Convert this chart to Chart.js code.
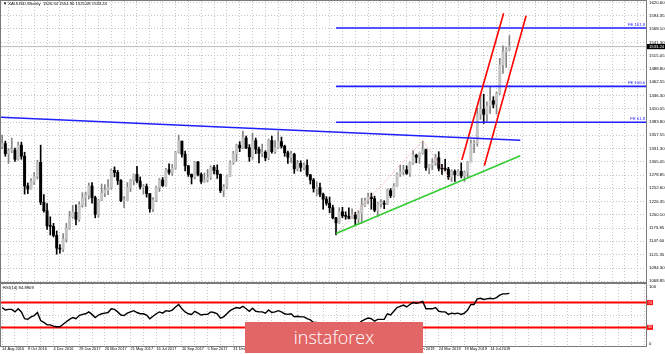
<!DOCTYPE html>
<html>
<head>
<meta charset="utf-8">
<script src="https://cdn.jsdelivr.net/npm/chart.js@4.4.1/dist/chart.umd.min.js"></script>
<style>
  html, body { margin: 0; padding: 0; background: #fff; }
  #wrap { position: relative; width: 665px; height: 354px; overflow: hidden; }
  #main { position: absolute; left: 0; top: 0; }
  #rsi { position: absolute; left: 0; top: 283px; }
  #logo {
    position: absolute; left: 245px; top: 322px; width: 178px; height: 31px;
    background: #e26666; color: #fff; text-align: center;
    font: 300 18px/31px "Open Sans", sans-serif;
  }
</style>
</head>
<body>
<div id="wrap">
  <canvas id="main" width="665" height="283"></canvas>
  <canvas id="rsi" width="665" height="71"></canvas>
  <div id="logo">instaforex</div>
</div>
<script>
// weekly XAUUSD bars, week 0 = 14 Aug 2016
const opens = [
  1335, 1341, 1321, 1327, 1328, 1310, 1338, 1316, 1257, 1251, 1266, 1276, 1304, 1225, 1208, 1178, 1177, 1159, 1134, 1132,
  1152, 1173, 1196, 1205, 1191, 1220, 1234, 1239, 1257, 1234, 1201, 1229, 1243, 1249, 1254, 1288, 1284, 1268, 1228, 1228,
  1254, 1268, 1280, 1267, 1255, 1256, 1242, 1212, 1229, 1254, 1269, 1258, 1289, 1284, 1292, 1324, 1346, 1320, 1297, 1280,
  1275, 1304, 1280, 1266, 1269, 1274, 1294, 1288, 1280, 1248, 1255, 1277, 1303, 1321, 1338, 1333, 1352, 1333, 1315, 1347,
  1330, 1322, 1324, 1313, 1347, 1325, 1333, 1345, 1336, 1323, 1314, 1320, 1291, 1302, 1294, 1298, 1279, 1269, 1252, 1254,
  1241, 1231, 1223, 1214, 1194, 1184, 1206, 1198, 1197, 1193, 1200, 1192, 1203, 1218, 1228, 1235, 1232, 1209, 1222, 1222,
  1221, 1248, 1238, 1257, 1281, 1285, 1289, 1282, 1303, 1318, 1314, 1322, 1329, 1293, 1299, 1302, 1313, 1292, 1291, 1290,
  1275, 1286, 1279, 1286, 1277, 1284, 1305, 1341, 1341, 1399, 1409, 1399, 1416, 1426, 1419, 1440, 1497, 1523, 1526.5
];
const highs = [
  1358, 1346, 1331, 1352, 1332, 1344, 1344, 1324, 1263, 1272, 1284, 1308, 1338, 1240, 1222, 1196, 1183, 1168, 1141, 1163,
  1183, 1207, 1219, 1220, 1226, 1244, 1245, 1263, 1264, 1237, 1231, 1261, 1260, 1270, 1291, 1295, 1288, 1270, 1236, 1264,
  1270, 1281, 1296, 1275, 1260, 1261, 1242, 1234, 1257, 1272, 1274, 1292, 1301, 1300, 1326, 1358, 1346, 1326, 1298, 1281,
  1306, 1306, 1283, 1283, 1290, 1297, 1298, 1299, 1281, 1260, 1279, 1307, 1326, 1340, 1345, 1366, 1356, 1339, 1362, 1352,
  1334, 1340, 1327, 1350, 1356, 1347, 1365, 1354, 1338, 1326, 1326, 1322, 1308, 1307, 1303, 1309, 1280, 1272, 1265, 1263,
  1243, 1236, 1235, 1219, 1195, 1214, 1215, 1206, 1214, 1212, 1205, 1208, 1233, 1233, 1243, 1243, 1237, 1225, 1230, 1228,
  1251, 1252, 1262, 1283, 1298, 1298, 1297, 1305, 1327, 1320, 1323, 1346, 1330, 1300, 1311, 1320, 1325, 1300, 1310, 1294,
  1289, 1289, 1289, 1303, 1287, 1306, 1348, 1348, 1411, 1439, 1439, 1424, 1453, 1434, 1443, 1510, 1535, 1531, 1555
];
const lows = [
  1331, 1316, 1302, 1323, 1306, 1308, 1310, 1241, 1242, 1251, 1260, 1271, 1220, 1205, 1171, 1160, 1156, 1122, 1124, 1127,
  1146, 1171, 1193, 1180, 1187, 1215, 1216, 1231, 1223, 1194, 1195, 1228, 1236, 1240, 1251, 1275, 1260, 1226, 1214, 1228,
  1246, 1259, 1263, 1251, 1241, 1235, 1205, 1206, 1226, 1246, 1256, 1256, 1280, 1278, 1290, 1322, 1314, 1287, 1276, 1261,
  1271, 1277, 1262, 1264, 1265, 1270, 1281, 1272, 1244, 1236, 1252, 1276, 1300, 1306, 1325, 1331, 1331, 1306, 1310, 1321,
  1303, 1315, 1307, 1309, 1322, 1321, 1331, 1332, 1316, 1302, 1304, 1282, 1287, 1286, 1289, 1276, 1261, 1245, 1238, 1236,
  1211, 1219, 1204, 1192, 1160, 1183, 1194, 1191, 1192, 1193, 1180, 1182, 1183, 1216, 1222, 1211, 1206, 1196, 1215, 1212,
  1220, 1234, 1235, 1256, 1276, 1279, 1280, 1276, 1300, 1303, 1302, 1320, 1288, 1281, 1289, 1298, 1287, 1280, 1287, 1270,
  1266, 1266, 1277, 1273, 1266, 1275, 1305, 1323, 1336, 1389, 1381, 1385, 1401, 1412, 1400, 1438, 1480, 1492, 1525.1
];
const closes = [
  1341, 1321, 1327, 1328, 1310, 1338, 1316, 1257, 1251, 1266, 1276, 1304, 1225, 1208, 1178, 1177, 1159, 1134, 1132, 1152,
  1173, 1196, 1205, 1191, 1220, 1234, 1239, 1257, 1234, 1201, 1229, 1243, 1249, 1254, 1288, 1284, 1268, 1228, 1228, 1254,
  1268, 1280, 1267, 1255, 1256, 1242, 1212, 1229, 1254, 1269, 1258, 1289, 1284, 1292, 1324, 1347, 1320, 1297, 1280, 1275,
  1304, 1280, 1266, 1269, 1274, 1294, 1288, 1280, 1248, 1255, 1277, 1303, 1321, 1338, 1333, 1352, 1333, 1315, 1347, 1330,
  1322, 1324, 1313, 1347, 1325, 1333, 1345, 1336, 1323, 1314, 1320, 1291, 1302, 1294, 1298, 1279, 1269, 1252, 1254, 1241,
  1231, 1223, 1214, 1194, 1184, 1206, 1198, 1197, 1193, 1200, 1192, 1203, 1218, 1228, 1235, 1232, 1209, 1222, 1222, 1221,
  1248, 1238, 1257, 1281, 1285, 1289, 1282, 1303, 1318, 1314, 1322, 1329, 1293, 1299, 1302, 1313, 1292, 1291, 1290, 1275,
  1286, 1279, 1286, 1277, 1284, 1305, 1341, 1341, 1399, 1409, 1399, 1416, 1426, 1419, 1440, 1497, 1523, 1527, 1533.24
];
const rsiValues = [
  62, 58, 59, 59, 55, 60, 55, 44, 43, 47, 49, 54, 41, 38, 34, 34, 32, 31, 31, 35,
  39, 43, 46, 44, 49, 51, 52, 55, 51, 46, 50, 52, 53, 54, 60, 59, 55, 50, 49, 53,
  55, 57, 54, 52, 52, 50, 44, 48, 52, 55, 53, 57, 56, 58, 63, 67, 60, 55, 52, 51,
  56, 53, 50, 51, 51, 55, 54, 52, 45, 47, 52, 57, 60, 62, 61, 64, 60, 56, 61, 56,
  55, 55, 53, 58, 54, 55, 57, 55, 52, 51, 52, 47, 48, 47, 47, 44, 42, 38, 38, 36,
  35, 34, 32, 29, 27, 33, 31, 31, 31, 33, 32, 36, 40, 43, 45, 44, 40, 43, 43, 43,
  52, 50, 56, 62, 64, 66, 63, 67, 70, 69, 70, 72, 60, 60, 60, 62, 56, 55, 55, 51,
  53, 52, 53, 51, 53, 58, 67, 67, 76, 77, 75, 76, 77, 76, 78, 82, 84, 84, 84.89
];

// tick labels
const dateLabels = [
  "14 Aug 2016", "9 Oct 2016", "4 Dec 2016", "29 Jan 2017", "26 Mar 2017", "21 May 2017", "16 Jul 2017",
  "10 Sep 2017", "5 Nov 2017", "31 Dec 2017", "25 Feb 2018", "22 Apr 2018", "17 Jun 2018", "12 Aug 2018",
  "7 Oct 2018", "2 Dec 2018", "27 Jan 2019", "24 Mar 2019", "19 May 2019", "14 Jul 2019"
];
const priceTicks = [
  1620.60, 1594.35, 1568.10, 1541.30, 1515.05, 1488.80, 1462.55, 1436.30, 1410.05, 1383.80, 1357.55,
  1331.30, 1305.05, 1278.85, 1252.60, 1226.35, 1200.10, 1173.85, 1147.60, 1121.35, 1094.30, 1068.85
];

// drawn objects: [week, price]
const blueTrend = [[-0.35, 1393.2], [161.4, 1347.6]];
const greenTrend = [[104, 1163], [161.4, 1317]];
const channelUpper = [[143.2, 1308.6], [156.2, 1599.2]];
const channelLower = [[150.2, 1297.3], [163.2, 1594.5]];
const feSwing = [[104, 1161], [131, 1346.8], [140, 1266.5]];
const feNames = ["FE 161.8", "FE 100.0", "FE 61.8"];
const feValues = [1570.0, 1454.5, 1383.5];
const rsiLevels = [70, 30];
const lastPrice = 1533.24;
const titleText = "\u25BC XAUUSD,Weekly  1526.54 1554.90 1525.08 1533.24";
const rsiTitle = "RSI(14) 84.8909";

const X_MIN = -0.35, X_MAX = 200.55;
const FONT = "Liberation Sans";
const gridColor = "#c6c6c6";

function segment(points, color, width, dash) {
    return {
        type: "line",
        data: points.map(([x, y]) => ({ x, y })),
        borderColor: color,
        borderWidth: width,
        borderDash: dash || [],
        pointRadius: 0,
        tension: 0,
        fill: false,
        order: 1
    };
}

function squeeze(size) {
    return scale => {
        scale.paddingLeft = scale.paddingRight = scale.paddingTop = scale.paddingBottom = 0;
        if (scale.isHorizontal()) scale.height = size; else scale.width = size;
    };
}

function weekGrid(scale) {
    const ticks = [];
    for (let w = 0; w <= 200; w += 4) ticks.push({ value: w });
    scale.ticks = ticks;
}

const frame = {
    id: "frame",
    afterDraw(chart) {
        const { ctx, chartArea: a } = chart;
        ctx.save();
        ctx.strokeStyle = "#7a7a7a";
        ctx.lineWidth = 1;
        ctx.strokeRect(a.left - 0.5, a.top - 0.5, a.right - a.left + 1, a.bottom - a.top + 1);
        ctx.restore();
    }
};

const mainLabels = {
    id: "mainLabels",
    afterDraw(chart) {
        const { ctx, chartArea: a, scales: { y } } = chart;
        ctx.save();
        ctx.font = `4.2px "${FONT}"`;
        ctx.fillStyle = "#000";
        ctx.textBaseline = "top";
        ctx.fillText(titleText, a.left + 2, a.top + 1);

        ctx.fillStyle = "#2020ff";
        ctx.textAlign = "right";
        ctx.textBaseline = "bottom";
        feValues.forEach((v, i) => ctx.fillText(feNames[i], a.right - 1, y.getPixelForValue(v) - 1));

        const py = y.getPixelForValue(lastPrice);
        ctx.fillStyle = "#000";
        ctx.fillRect(a.right + 1, py - 2.6, 19, 5.2);
        ctx.fillStyle = "#fff";
        ctx.textAlign = "left";
        ctx.textBaseline = "middle";
        ctx.fillText(lastPrice.toFixed(2), a.right + 3, py);
        ctx.restore();
    }
};

const rsiLabels = {
    id: "rsiLabels",
    afterDraw(chart) {
        const { ctx, chartArea: a, scales: { y } } = chart;
        ctx.save();
        ctx.font = `4.2px "${FONT}"`;
        ctx.fillStyle = "#000";
        ctx.textBaseline = "top";
        ctx.fillText(rsiTitle, a.left + 2, a.top + 1.5);
        ctx.fillText("100", a.right + 3, y.getPixelForValue(100) + 0.5);
        ctx.textBaseline = "bottom";
        ctx.fillText("0", a.right + 3, y.getPixelForValue(0));
        rsiLevels.forEach(v => {
            const py = y.getPixelForValue(v);
            ctx.fillStyle = "#ff1010";
            ctx.fillRect(a.right + 1, py - 2.5, 6, 5);
            ctx.fillStyle = "#fff";
            ctx.font = `3.4px "${FONT}"`;
            ctx.textBaseline = "middle";
            ctx.fillText(String(v), a.right + 2, py);
        });
        ctx.restore();
    }
};

const xGrid = {
    type: "linear",
    min: X_MIN,
    max: X_MAX,
    offset: false,
    afterBuildTicks: weekGrid,
    grid: { color: gridColor, drawTicks: false },
    border: { display: false, dash: [1, 2] }
};

new Chart(document.getElementById("main"), {
    type: "bar",
    data: {
        datasets: [
            segment(blueTrend, "#1f1fff", 1.6),
            segment(greenTrend, "#33cc33", 1.6),
            segment(channelUpper, "#ff0000", 1.6),
            segment(channelLower, "#ff0000", 1.6),
            segment(feSwing, "#f08080", 0.8, [1, 1.5]),
            ...feValues.map(v => segment([[104, v], [X_MAX, v]], "#1f1fff", 1.6)),
            Object.assign(segment([[X_MIN, lastPrice], [X_MAX, lastPrice]], "#a9a9a9", 0.8), { order: 5 }),
            {
                type: "bar",
                data: lows.map((l, i) => ({ x: i, y: [l, highs[i]] })),
                backgroundColor: c => closes[c.dataIndex] >= opens[c.dataIndex] ? "#858585" : "#000",
                barThickness: 1,
                grouped: false,
                order: 4
            },
            {
                type: "bar",
                data: opens.map((o, i) => ({ x: i, y: [o, closes[i]] })),
                backgroundColor: c => closes[c.dataIndex] >= opens[c.dataIndex] ? "#c4c4c4" : "#000",
                barThickness: 2.3,
                minBarLength: 1,
                grouped: false,
                order: 3
            }
        ]
    },
    options: {
        responsive: false,
        animation: false,
        events: [],
        layout: { padding: { left: 1, top: 1, right: 0, bottom: 1 } },
        plugins: { legend: { display: false }, tooltip: { enabled: false } },
        scales: {
            x: Object.assign({}, xGrid, { ticks: { display: false }, afterFit: squeeze(0) }),
            y: {
                position: "right",
                min: 1066.87,
                max: 1623.57,
                afterBuildTicks: s => { s.ticks = priceTicks.map(v => ({ value: v })); },
                afterFit: squeeze(19),
                grid: { color: gridColor, drawTicks: false },
                border: { display: false, dash: [1, 2] },
                ticks: {
                    padding: 3,
                    color: "#000",
                    font: { family: FONT, size: 4.3 },
                    callback: v => v.toFixed(2)
                }
            }
        }
    },
    plugins: [frame, mainLabels]
});

new Chart(document.getElementById("rsi"), {
    type: "line",
    data: {
        datasets: [
            Object.assign(segment(rsiValues.map((v, i) => [i, v]), "#000", 1.4), { order: 0 }),
            ...rsiLevels.map(v => segment([[X_MIN, v], [X_MAX, v]], "#ff0000", 2))
        ]
    },
    options: {
        responsive: false,
        animation: false,
        events: [],
        layout: { padding: { left: 1, top: 1, right: 0, bottom: 0 } },
        plugins: { legend: { display: false }, tooltip: { enabled: false } },
        scales: {
            x: Object.assign({}, xGrid, {
                afterFit: squeeze(8),
                ticks: {
                    autoSkip: false,
                    maxRotation: 0,
                    align: "start",
                    padding: 1,
                    color: "#000",
                    font: { family: FONT, size: 3.9 },
                    callback: v => (v % 8 === 0 && dateLabels[v / 8]) || ""
                }
            }),
            y: {
                position: "right",
                min: 0,
                max: 100,
                afterBuildTicks: s => { s.ticks = [{ value: 50 }]; },
                afterFit: squeeze(19),
                grid: { color: gridColor, drawTicks: false },
                border: { display: false, dash: [1, 2] },
                ticks: { display: false }
            }
        }
    },
    plugins: [frame, rsiLabels]
});
</script>
</body>
</html>
